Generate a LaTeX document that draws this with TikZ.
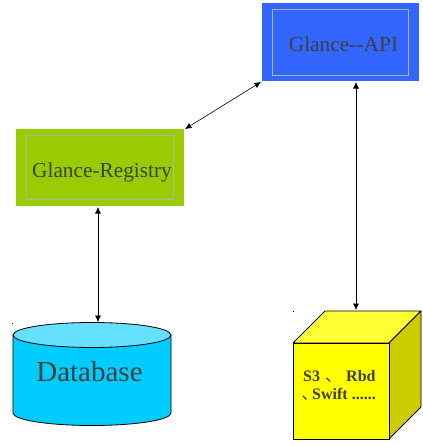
\documentclass[tikz,border=0pt]{standalone}
\usepackage{fontspec}
\setmainfont{Liberation Serif}
\newfontfamily\cjk{Noto Sans CJK SC}
\usepackage{xcolor}
\usetikzlibrary{positioning}
\usetikzlibrary{arrows.meta}
\definecolor{apiblue}{HTML}{3366FF}
\definecolor{reggreen}{HTML}{99CC00}
\definecolor{dbblue}{HTML}{00CCFF}
\definecolor{dbtopblue}{HTML}{66E0FF}
\definecolor{cubeyellow}{HTML}{FFFF00}
\definecolor{cubeside}{HTML}{CCCC00}
\definecolor{cubetop}{HTML}{FFFF33}
\definecolor{labelgray}{HTML}{3F3F3F}
\tikzset{
    box/.style={fill=#1, inner sep=0pt, anchor=center},
    innerbox/.style={draw=gray!60, line width=1pt, inner sep=0pt, text=labelgray},
    link/.style={{Latex[length=6.5pt,width=6pt]}-{Latex[length=6.5pt,width=6pt]}, line width=0.6pt},
    solid edge/.style={draw=black, line width=0.8pt, line join=round},
    speck/.style={fill=black, inner sep=0pt, minimum size=1pt}
}
\begin{document}
\begin{tikzpicture}[x=1pt,y=-1pt]
    \useasboundingbox (0,0) rectangle (423,445);

    % Glance API
    \node[box=apiblue, minimum width=157pt, minimum height=78pt] (api) at (340.5,42) {};
    \node[innerbox, minimum width=136pt, minimum height=66pt] (apiin) at (340,42) {};
    \node[text=labelgray, font=\fontsize{21.4}{25}\selectfont, anchor=base] (apilabel) at (343.5,51) {Glance-{}-API};

    % Glance registry
    \node[box=reggreen, minimum width=168pt, minimum height=77pt] (reg) at (100,167.5) {};
    \node[innerbox, minimum width=147pt, minimum height=64pt] (regin) at (99.5,167) {};
    \node[text=labelgray, font=\fontsize{21.3}{25}\selectfont, anchor=base] (reglabel) at (102,177) {Glance-Registry};

    % Database
    \draw[solid edge, fill=dbblue] (13,335) -- (13,413) arc[start angle=180, end angle=360, x radius=79, y radius=-12.5] -- (171,335) -- cycle;
    \draw[solid edge, fill=dbtopblue] (92,335) ellipse[x radius=79, y radius=12.5];
    \coordinate (dbtop) at (98,322);
    \node[text=labelgray, font=\fontsize{29}{34}\selectfont, anchor=base] (dblabel) at (89.5,381) {Database};
    \node[speck] (dbspeck) at (12.5,323) {};

    % Storage cube
    \draw[solid edge, fill=cubetop] (293,343) -- (325,311) -- (421,311) -- (389,343) -- cycle;
    \draw[solid edge, fill=cubeside] (389,343) -- (421,311) -- (421,407) -- (389,439) -- cycle;
    \node[draw=black, line width=0.8pt, fill=cubeyellow, minimum width=96pt, minimum height=96pt, inner sep=0pt] (cube) at (341,391) {};
    \coordinate (cubetopin) at (356,310);
    \node[speck] (cubespeck) at (293.5,311) {};
    \node[text=labelgray, font=\fontsize{16}{19}\bfseries\selectfont, anchor=base west, inner sep=0pt] (s3) at (303,381) {S3};
    \node[text=labelgray, font=\fontsize{16}{19}\cjk\selectfont, anchor=base west, inner sep=0pt] (mark1) at (325,381) {、};
    \node[text=labelgray, font=\fontsize{16}{19}\bfseries\selectfont, anchor=base west, inner sep=0pt] (rbd) at (346,381) {Rbd};
    \node[text=labelgray, font=\fontsize{16}{19}\cjk\selectfont, anchor=base west, inner sep=0pt] (mark2) at (301.5,399) {、};
    \node[text=labelgray, font=\fontsize{16}{19}\bfseries\selectfont, anchor=base west, inner sep=0pt] (swift) at (312,399) {Swift ......};

    % Links
    \coordinate (apifoot) at (356,82);
    \coordinate (regfoot) at (98,207);
    \coordinate (apicorner) at (261,82);
    \coordinate (regcorner) at (185,129);
    \draw[link] (apicorner) -- (regcorner);
    \draw[link] (apifoot) -- (cubetopin);
    \draw[link] (regfoot) -- (dbtop);
\end{tikzpicture}
\end{document}
